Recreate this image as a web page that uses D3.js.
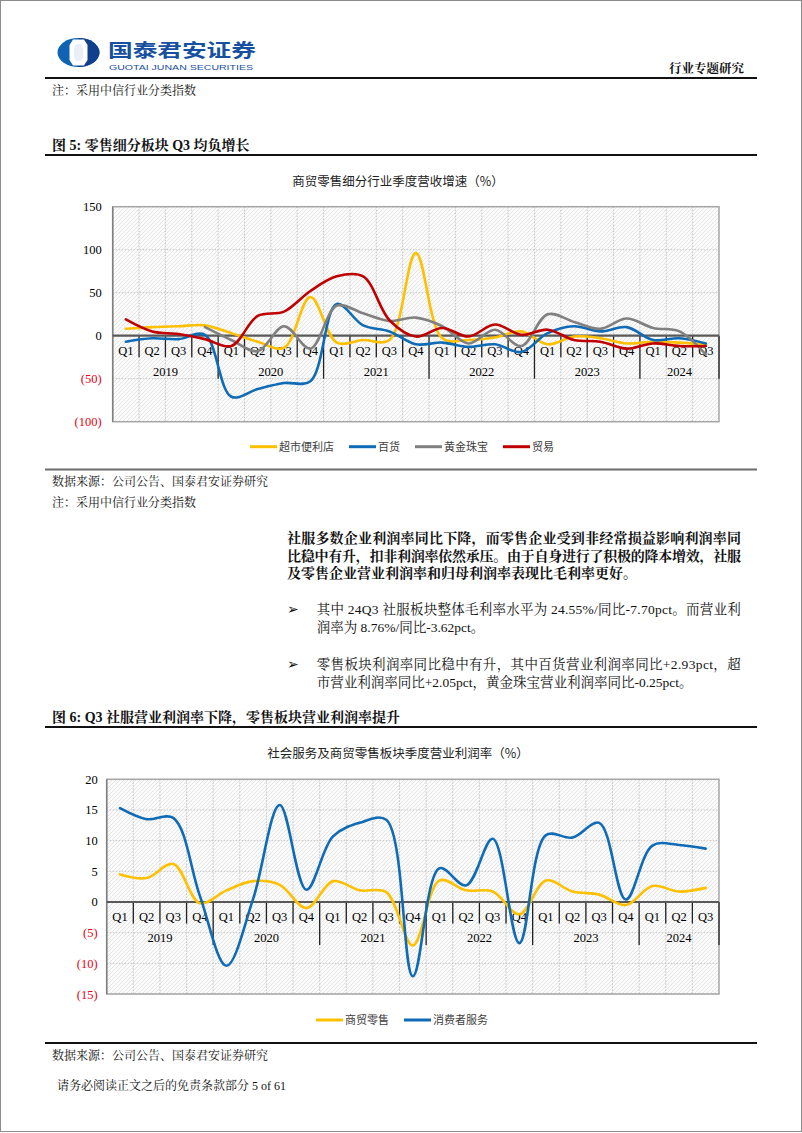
<!DOCTYPE html>
<html><head><meta charset="utf-8">
<script src="https://cdn.jsdelivr.net/npm/d3@7"></script>
<style>body{margin:0;background:#fff}svg{display:block}</style>
</head><body>
<svg id="page" width="802" height="1133"></svg>
<script>
// ---------- data ----------
const years = ["2019","2020","2021","2022","2023","2024"];
const quarterNames = ["Q1","Q2","Q3","Q4"];
const quartersPerYear = [4,4,4,4,4,3];

// chart 1: 商贸零售细分行业季度营收增速(%)
const seriesNames1 = ["超市便利店","百货","黄金珠宝","贸易"];
const supermarket = [8,10,11,12, 3,-7,-14,45, -8,-5,-5,96, -3,-5,-2,5, -10,-1,-3,-9, -7,-8,-10];
const departmentStore = [-7,-3,-4,1, -71,-62,-55,-53, 37,12,5,-10, -8,-13,-10,-19, 3,11,5,10, -5,-3,-9];
const goldJewelry = [null,null,null,10, -5,-18,11,-15, 35,26,17,21, 11,-9,7,-12, 25,16,8,20, 9,5,-22];
const trade = [19,5,2,-4, -12,23,28,52, 69,69,18,-1, 9,-1,13,1, 7,-5,-7,-15, -9,-12,-12];
const ticks1 = [150,100,50,0,-50,-100];

// chart 2: 社会服务及商贸零售板块季度营业利润率(%)
const seriesNames2 = ["商贸零售","消费者服务"];
const retail = [4.5,3.9,6.2,-0.2, 1.9,3.4,2.8,-1.0, 3.4,1.9,1.6,-7.1, 3.5,1.9,1.7,-2.0, 3.5,1.7,1.2,-0.5, 2.6,1.7,2.3];
const consumerServices = [15.3,13.5,13.7,1.0, -10.4,0.5,15.8,2.0, 10.7,12.9,13.4,-12.1, 5.5,2.7,10.3,-6.7, 10.9,10.5,12.9,0.4, 9.2,9.3,8.7];
const ticks2 = [20,15,10,5,0,-5,-10,-15];

// ---------- helpers ----------
const categories = [];
years.forEach((y,i)=>{ for(let q=0;q<quartersPerYear[i];q++) categories.push({year:y,q:quarterNames[q],key:y+quarterNames[q]}); });

const svg = d3.select("#page");
const SERIF = "'Liberation Serif','Noto Serif CJK SC','Noto Sans CJK SC',serif";
const SANS = "'Noto Sans CJK SC','Noto Sans',sans-serif";

const defs = svg.append("defs");
const pat = defs.append("pattern").attr("id","hatch").attr("width",4).attr("height",4).attr("patternUnits","userSpaceOnUse");
pat.append("rect").attr("width",4).attr("height",4).attr("fill","#fbfbfb");
pat.append("path").attr("d","M-1,1 l2,-2 M0,4 l4,-4 M3,5 l2,-2").attr("stroke","#e2e2e2").attr("stroke-width",0.9);

// page border
svg.append("rect").attr("x",0.5).attr("y",0.5).attr("width",801).attr("height",1131).attr("fill","none").attr("stroke","#8c8c8c");

// ---------- header ----------
const logo = svg.append("g");
logo.append("ellipse").attr("cx",78.5).attr("cy",52.5).attr("rx",21).attr("ry",14.5).attr("fill","#0e63b3");
logo.append("path").attr("d","M78.5,38 L78.5,67 A21,14.5 0 0 0 78.5,38 Z").attr("fill","#123f8c");
logo.append("polygon").attr("points","73,39.5 84,39.5 87.5,45 87.5,60 84,65.5 73,65.5 69.5,60 69.5,45").attr("fill","#fff");
logo.append("polygon").attr("points","76,44 81,44 83,48 83,57 81,61 76,61 74,57 74,48").attr("fill","#e9eef7");
svg.append("text").attr("x",0).attr("y",0).attr("transform","translate(108,56.5) scale(1.37,1)")
  .attr("font-family",SANS).attr("font-weight",700).attr("font-size",18).attr("fill","#1750a0").text("国泰君安证券");
svg.append("text").attr("x",109).attr("y",70).attr("textLength",144).attr("lengthAdjust","spacingAndGlyphs")
  .attr("font-family","'Liberation Sans',Arial,sans-serif").attr("font-size",8).attr("fill","#1750a0").text("GUOTAI JUNAN SECURITIES");
svg.append("text").attr("x",744).attr("y",73).attr("text-anchor","end")
  .attr("font-family",SERIF).attr("font-weight",700).attr("font-size",12.5).attr("fill","#111").text("行业专题研究");
svg.append("rect").attr("x",45).attr("y",77).attr("width",712).attr("height",2).attr("fill","#111");

function plainText(x,y,str,opts={}){
  const t = svg.append("text").attr("x",x).attr("y",y).attr("font-family",opts.family||SERIF)
    .attr("font-size",opts.size||12).attr("font-weight",opts.weight||400).attr("fill",opts.fill||"#111").text(str);
  if(opts.len) t.attr("textLength",opts.len).attr("lengthAdjust","spacing");
  if(opts.anchor) t.attr("text-anchor",opts.anchor);
  return t;
}

plainText(52,95,"注：采用中信行业分类指数",{size:12});
plainText(52,150,"图 5:  零售细分板块 Q3 均负增长",{size:14,weight:700});
svg.append("rect").attr("x",45).attr("y",154).attr("width",712).attr("height",2).attr("fill","#111");

// ---------- chart drawing ----------
function drawChart(cfg){
  const g = svg.append("g");
  const x = d3.scaleBand().domain(categories.map(d=>d.key)).range([cfg.x0,cfg.x1]).padding(0);
  const bw = x.bandwidth();
  const y = d3.scaleLinear().domain(cfg.domain).range([cfg.yBot,cfg.yTop]);
  const y0 = y(0);

  // title
  g.append("text").attr("x",cfg.titleX).attr("y",cfg.titleY).attr("text-anchor","middle")
    .attr("font-family",SANS).attr("font-size",12.5).attr("fill","#222").text(cfg.title);

  // background
  g.append("rect").attr("x",cfg.x0).attr("y",cfg.yTop).attr("width",cfg.x1-cfg.x0).attr("height",cfg.yBot-cfg.yTop).attr("fill","url(#hatch)");

  // grid
  g.append("g").selectAll("line").data(cfg.ticks.filter(t=>t!==0)).join("line")
    .attr("x1",cfg.x0).attr("x2",cfg.x1).attr("y1",d=>y(d)).attr("y2",d=>y(d))
    .attr("stroke","#c4c4c4").attr("stroke-width",1).attr("stroke-dasharray","1.5,1.5");
  g.append("g").selectAll("line").data(categories.slice(1)).join("line")
    .attr("x1",d=>x(d.key)).attr("x2",d=>x(d.key)).attr("y1",cfg.yTop).attr("y2",cfg.yBot)
    .attr("stroke","#c4c4c4").attr("stroke-width",1).attr("stroke-dasharray","1.5,1.5");

  // frame
  g.append("rect").attr("x",cfg.x0).attr("y",cfg.yTop).attr("width",cfg.x1-cfg.x0).attr("height",cfg.yBot-cfg.yTop)
    .attr("fill","none").attr("stroke","#a6a6a6").attr("stroke-width",1.5);
  g.append("line").attr("x1",cfg.x0).attr("x2",cfg.x0).attr("y1",cfg.yTop).attr("y2",cfg.yBot).attr("stroke","#7f7f7f").attr("stroke-width",1.5);

  // y axis labels
  const yAxis = d3.axisLeft(y).tickValues(cfg.ticks).tickSize(0).tickPadding(cfg.labelGap)
    .tickFormat(v=> v<0 ? "("+(-v)+")" : String(v));
  const ya = g.append("g").attr("transform",`translate(${cfg.x0},0)`).call(yAxis);
  ya.select(".domain").remove();
  ya.selectAll("text").attr("font-family",SERIF).attr("font-size",12.5)
    .attr("fill",d=> d<0 ? "#e60012" : "#000");

  // category labels
  g.append("g").selectAll("text").data(categories).join("text")
    .attr("x",d=>x(d.key)+bw/2).attr("y",y0+14.5).attr("dy","0.35em").attr("text-anchor","middle")
    .attr("font-family",SERIF).attr("font-size",12.5).attr("fill","#000").text(d=>d.q);
  const yearGroups = d3.groups(categories,d=>d.year);
  g.append("g").selectAll("text").data(yearGroups).join("text")
    .attr("x",d=>(x(d[1][0].key)+x(d[1][d[1].length-1].key)+bw)/2).attr("y",y0+36).attr("dy","0.35em").attr("text-anchor","middle")
    .attr("font-family",SERIF).attr("font-size",12.5).attr("fill","#000").text(d=>d[0]);
  // separators
  const sep = categories.slice(1).map(d=>({x:x(d.key),major:d.q==="Q1"}));
  sep.push({x:cfg.x1,major:true});
  g.append("g").selectAll("line").data(sep).join("line")
    .attr("x1",d=>d.x).attr("x2",d=>d.x).attr("y1",y0).attr("y2",d=>y0+(d.major?43:21.5))
    .attr("stroke","#222").attr("stroke-width",1.3);
  // zero line
  g.append("line").attr("x1",cfg.x0).attr("x2",cfg.x1).attr("y1",y0).attr("y2",y0).attr("stroke","#595959").attr("stroke-width",2.2);

  // series
  const line = d3.line().defined(d=>d.v!==null).x(d=>x(d.key)+bw/2).y(d=>y(d.v)).curve(d3.curveCatmullRom.alpha(0.5));
  cfg.series.forEach(s=>{
    const pts = categories.map((c,i)=>({key:c.key,v:s.values[i]}));
    g.append("path").datum(pts).attr("d",line).attr("fill","none").attr("stroke",s.color)
      .attr("stroke-width",2.6).attr("stroke-linejoin","round").attr("stroke-linecap","round");
  });

  // legend
  const lg = g.append("g");
  let cx = 0;
  cfg.series.forEach(s=>{
    const it = lg.append("g").attr("transform",`translate(${cx},0)`);
    it.append("line").attr("x1",0).attr("x2",27).attr("y1",0).attr("y2",0).attr("stroke",s.color).attr("stroke-width",3);
    const t = it.append("text").attr("x",29).attr("y",0).attr("dy","0.36em").attr("font-family",SANS).attr("font-size",11).attr("fill","#404040").text(s.name);
    const w = 29 + t.node().getComputedTextLength();
    cx += w + 15;
  });
  const total = cx - 15;
  lg.attr("transform",`translate(${cfg.legendCX - total/2},${cfg.legendY})`);
}

const COLORS = {yellow:"#ffc000", blue:"#0f6bb6", gray:"#808080", red:"#c00000"};

drawChart({
  title:"商贸零售细分行业季度营收增速（%）", titleX:398, titleY:186,
  x0:112.7, x1:719, yTop:206.7, yBot:421.7, domain:[-100,150], ticks:ticks1, labelGap:11,
  series:[
    {name:seriesNames1[0], values:supermarket, color:COLORS.yellow},
    {name:seriesNames1[1], values:departmentStore, color:COLORS.blue},
    {name:seriesNames1[2], values:goldJewelry, color:COLORS.gray},
    {name:seriesNames1[3], values:trade, color:COLORS.red}
  ],
  legendCX:402, legendY:446.7
});

svg.append("rect").attr("x",45).attr("y",468.5).attr("width",712).attr("height",2).attr("fill","#6d6d6d");
plainText(52,486,"数据来源：公司公告、国泰君安证券研究",{size:12});
plainText(52,506.5,"注：采用中信行业分类指数",{size:12});

// body paragraph
plainText(287,543,"社服多数企业利润率同比下降，而零售企业受到非经常损益影响利润率同",{size:14,weight:700,len:454});
plainText(287,560.5,"比稳中有升，扣非利润率依然承压。由于自身进行了积极的降本增效，社服",{size:14,weight:700,len:454});
plainText(287,578,"及零售企业营业利润率和归母利润率表现比毛利率更好。",{size:14,weight:700});
plainText(287,614,"➢",{size:14,family:"'DejaVu Sans',sans-serif"});
plainText(316.7,614,"其中 24Q3 社服板块整体毛利率水平为 24.55%/同比-7.70pct。而营业利",{size:13.5,len:424});
plainText(316.7,632,"润率为 8.76%/同比-3.62pct。",{size:13.5});
plainText(287,669,"➢",{size:14,family:"'DejaVu Sans',sans-serif"});
plainText(316.7,669,"零售板块利润率同比稳中有升，其中百货营业利润率同比+2.93pct，超",{size:13.5,len:424});
plainText(316.7,686.5,"市营业利润率同比+2.05pct，黄金珠宝营业利润率同比-0.25pct。",{size:13.5});

plainText(52,721.5,"图 6:  Q3 社服营业利润率下降，零售板块营业利润率提升",{size:14,weight:700});
svg.append("rect").attr("x",45).attr("y",726).attr("width",712).attr("height",2).attr("fill","#111");

drawChart({
  title:"社会服务及商贸零售板块季度营业利润率（%）", titleX:398, titleY:757.5,
  x0:106.7, x1:719, yTop:779.3, yBot:994, domain:[-15,20], ticks:ticks2, labelGap:9,
  series:[
    {name:seriesNames2[0], values:retail, color:COLORS.yellow},
    {name:seriesNames2[1], values:consumerServices, color:COLORS.blue}
  ],
  legendCX:402, legendY:1020
});

svg.append("rect").attr("x",45).attr("y",1042).attr("width",712).attr("height",2).attr("fill","#111");
plainText(52,1059.5,"数据来源：公司公告、国泰君安证券研究",{size:12});
plainText(57,1090,"请务必阅读正文之后的免责条款部分 5 of 61",{size:12});
</script>
</body></html>
